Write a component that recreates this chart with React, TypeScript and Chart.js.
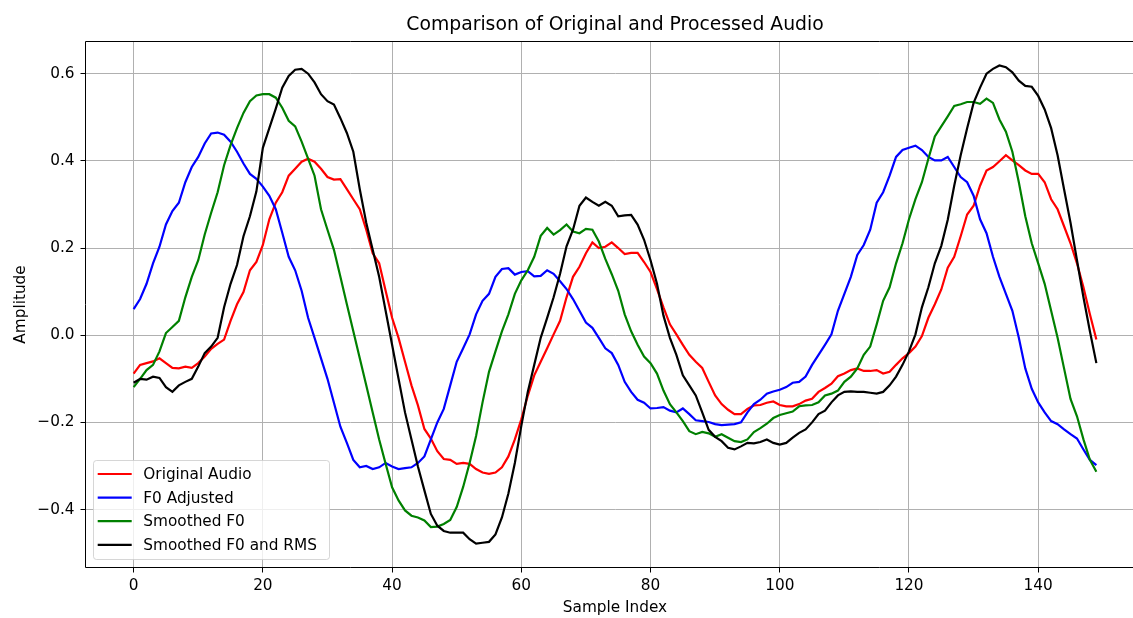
import React, { useEffect, useRef } from "react";
import { Chart, registerables } from "chart.js";

Chart.register(...registerables);

// Sample positions 0..149
const sampleIndex: number[] = [
  0, 1, 2, 3, 4, 5, 6, 7, 8, 9, 10, 11, 12, 13, 14, 15, 16, 17, 18, 19,
  20, 21, 22, 23, 24, 25, 26, 27, 28, 29, 30, 31, 32, 33, 34, 35, 36, 37, 38, 39,
  40, 41, 42, 43, 44, 45, 46, 47, 48, 49, 50, 51, 52, 53, 54, 55, 56, 57, 58, 59,
  60, 61, 62, 63, 64, 65, 66, 67, 68, 69, 70, 71, 72, 73, 74, 75, 76, 77, 78, 79,
  80, 81, 82, 83, 84, 85, 86, 87, 88, 89, 90, 91, 92, 93, 94, 95, 96, 97, 98, 99,
  100, 101, 102, 103, 104, 105, 106, 107, 108, 109, 110, 111, 112, 113, 114, 115, 116, 117, 118, 119,
  120, 121, 122, 123, 124, 125, 126, 127, 128, 129, 130, 131, 132, 133, 134, 135, 136, 137, 138, 139,
  140, 141, 142, 143, 144, 145, 146, 147, 148, 149,
];

const originalAudio: number[] = [
  -0.088, -0.068, -0.064, -0.06, -0.053, -0.064, -0.075, -0.076, -0.072, -0.075,
  -0.064, -0.049, -0.031, -0.02, -0.01, 0.033, 0.071, 0.099, 0.149, 0.168,
  0.207, 0.266, 0.304, 0.328, 0.366, 0.382, 0.398, 0.405, 0.398, 0.382,
  0.363, 0.357, 0.358, 0.335, 0.312, 0.289, 0.242, 0.188, 0.165, 0.102,
  0.04, -0.006, -0.061, -0.115, -0.161, -0.215, -0.237, -0.266, -0.284, -0.286,
  -0.295, -0.293, -0.295, -0.307, -0.315, -0.318, -0.315, -0.303, -0.278, -0.239,
  -0.193, -0.139, -0.092, -0.061, -0.03, 0.002, 0.033, 0.087, 0.134, 0.157,
  0.188, 0.213, 0.2, 0.203, 0.213, 0.2, 0.186, 0.189, 0.189, 0.168,
  0.145, 0.106, 0.064, 0.025, 0.002, -0.022, -0.045, -0.061, -0.075, -0.107,
  -0.138, -0.158, -0.171, -0.181, -0.181, -0.169, -0.161, -0.16, -0.155, -0.152,
  -0.16, -0.163, -0.163, -0.158, -0.15, -0.146, -0.13, -0.121, -0.111, -0.094,
  -0.088, -0.08, -0.076, -0.082, -0.082, -0.08, -0.088, -0.084, -0.068, -0.053,
  -0.041, -0.026, -0.002, 0.04, 0.071, 0.105, 0.155, 0.18, 0.227, 0.277,
  0.297, 0.343, 0.378, 0.386, 0.399, 0.413, 0.401, 0.39, 0.378, 0.37,
  0.37, 0.351, 0.312, 0.289, 0.25, 0.211, 0.165, 0.11, 0.048, -0.01,
];

const f0Adjusted: number[] = [
  0.06, 0.083, 0.118, 0.165, 0.203, 0.254, 0.285, 0.304, 0.351, 0.386,
  0.409, 0.44, 0.463, 0.465, 0.46, 0.444, 0.421, 0.394, 0.37, 0.359,
  0.341, 0.32, 0.289, 0.235, 0.18, 0.149, 0.102, 0.04, -0.006, -0.053,
  -0.1, -0.155, -0.21, -0.247, -0.286, -0.303, -0.3, -0.307, -0.303, -0.293,
  -0.301, -0.307, -0.305, -0.303, -0.293, -0.278, -0.239, -0.2, -0.169, -0.115,
  -0.061, -0.03, 0.002, 0.048, 0.079, 0.095, 0.134, 0.152, 0.154, 0.139,
  0.145, 0.147, 0.135, 0.136, 0.149, 0.141, 0.124, 0.106, 0.083, 0.056,
  0.029, 0.017, -0.006, -0.03, -0.041, -0.068, -0.107, -0.13, -0.148, -0.155,
  -0.168, -0.167, -0.165, -0.173, -0.177, -0.168, -0.181, -0.195, -0.197, -0.199,
  -0.204, -0.206, -0.205, -0.204, -0.2, -0.177, -0.158, -0.148, -0.134, -0.129,
  -0.125, -0.119, -0.109, -0.107, -0.095, -0.068, -0.045, -0.022, 0.002, 0.056,
  0.095, 0.134, 0.184, 0.207, 0.242, 0.304, 0.328, 0.366, 0.409, 0.425,
  0.43, 0.435, 0.425, 0.409, 0.401, 0.401, 0.409, 0.386, 0.363, 0.351,
  0.32, 0.266, 0.234, 0.18, 0.134, 0.095, 0.056, -0.006, -0.076, -0.123,
  -0.154, -0.177, -0.197, -0.204, -0.216, -0.227, -0.237, -0.262, -0.286, -0.298,
];

const smoothedF0: number[] = [
  -0.119, -0.1, -0.08, -0.068, -0.037, 0.005, 0.019, 0.033, 0.087, 0.134,
  0.172, 0.231, 0.281, 0.328, 0.39, 0.436, 0.475, 0.51, 0.537, 0.55,
  0.553, 0.553, 0.545, 0.522, 0.492, 0.479, 0.444, 0.405, 0.366, 0.289,
  0.242, 0.196, 0.134, 0.071, 0.009, -0.053, -0.115, -0.177, -0.239, -0.295,
  -0.349, -0.379, -0.402, -0.414, -0.418, -0.425, -0.44, -0.439, -0.433, -0.424,
  -0.394, -0.348, -0.293, -0.231, -0.154, -0.084, -0.037, 0.009, 0.048, 0.095,
  0.126, 0.149, 0.18, 0.228, 0.246, 0.231, 0.241, 0.254, 0.238, 0.234,
  0.244, 0.242, 0.215, 0.175, 0.14, 0.102, 0.048, 0.009, -0.022, -0.049,
  -0.064, -0.088, -0.127, -0.158, -0.177, -0.197, -0.22, -0.227, -0.222, -0.225,
  -0.233, -0.227, -0.235, -0.243, -0.245, -0.239, -0.222, -0.213, -0.203, -0.19,
  -0.183, -0.179, -0.175, -0.163, -0.161, -0.16, -0.154, -0.138, -0.134, -0.127,
  -0.107, -0.095, -0.076, -0.045, -0.026, 0.025, 0.079, 0.11, 0.165, 0.211,
  0.266, 0.312, 0.351, 0.405, 0.456, 0.479, 0.502, 0.526, 0.53, 0.535,
  0.535, 0.531, 0.543, 0.533, 0.495, 0.467, 0.421, 0.351, 0.273, 0.211,
  0.165, 0.118, 0.056, -0.006, -0.076, -0.146, -0.186, -0.239, -0.286, -0.313,
];

const smoothedF0Rms: number[] = [
  -0.109, -0.1, -0.102, -0.095, -0.098, -0.119, -0.13, -0.115, -0.107, -0.1,
  -0.072, -0.041, -0.026, -0.006, 0.064, 0.118, 0.161, 0.227, 0.273, 0.33,
  0.43, 0.475, 0.52, 0.568, 0.595, 0.609, 0.611, 0.6, 0.58, 0.553,
  0.537, 0.529, 0.498, 0.464, 0.421, 0.335, 0.258, 0.196, 0.134, 0.056,
  -0.022, -0.1, -0.177, -0.239, -0.301, -0.356, -0.41, -0.437, -0.449, -0.453,
  -0.453, -0.453, -0.468, -0.478, -0.476, -0.474, -0.457, -0.418, -0.363, -0.293,
  -0.208, -0.13, -0.068, -0.006, 0.04, 0.087, 0.141, 0.204, 0.242, 0.297,
  0.316, 0.306, 0.297, 0.306, 0.297, 0.273, 0.275, 0.276, 0.254, 0.219,
  0.172, 0.118, 0.045, -0.006, -0.045, -0.092, -0.115, -0.138, -0.177, -0.217,
  -0.233, -0.243, -0.258, -0.262, -0.255, -0.247, -0.248, -0.245, -0.239, -0.247,
  -0.251, -0.247, -0.235, -0.224, -0.216, -0.2, -0.181, -0.173, -0.154, -0.138,
  -0.13, -0.129, -0.13, -0.13, -0.132, -0.134, -0.13, -0.115, -0.095, -0.068,
  -0.037, 0.002, 0.064, 0.11, 0.165, 0.205, 0.265, 0.343, 0.413, 0.475,
  0.533, 0.568, 0.6, 0.611, 0.619, 0.615, 0.603, 0.584, 0.572, 0.57,
  0.549, 0.518, 0.475, 0.413, 0.335, 0.258, 0.172, 0.087, 0.009, -0.064,
];

const seriesNames: string[] = ["Original Audio", "F0 Adjusted", "Smoothed F0", "Smoothed F0 and RMS"];
const seriesColors: string[] = ["#ff0000", "#0000ff", "#008000", "#000000"];

const xTicks: number[] = [0, 20, 40, 60, 80, 100, 120, 140];
const xTickLabels: string[] = ["0", "20", "40", "60", "80", "100", "120", "140"];
const yTicks: number[] = [-0.4, -0.2, 0.0, 0.2, 0.4, 0.6];
const yTickLabels: string[] = ["\u22120.4", "\u22120.2", "0.0", "0.2", "0.4", "0.6"];

const titleText = "Comparison of Original and Processed Audio";
const xAxisTitle = "Sample Index";
const yAxisTitle = "Amplitude";

const FONT = "'DejaVu Sans', 'Liberation Sans', sans-serif";
const VIEW_W = 1133;
const CANVAS_W = 1200;
const CANVAS_H = 618;
const AREA_RIGHT = 1144.5;

// Data extent with 5% margins on each side
const allValues = [...originalAudio, ...f0Adjusted, ...smoothedF0, ...smoothedF0Rms];
const yLo = Math.min(...allValues);
const yHi = Math.max(...allValues);
const yPad = (yHi - yLo) * 0.05;
const xLo = sampleIndex[0];
const xHi = sampleIndex[sampleIndex.length - 1];
const xPad = (xHi - xLo) * 0.05;

const frameAndDecor = {
  id: "frameAndDecor",
  afterDatasetsDraw(chart: any) {
    const { ctx, chartArea } = chart;
    const { left, right, top, bottom } = chartArea;
    ctx.save();
    ctx.strokeStyle = "#000";
    ctx.lineWidth = 1;
    // top, left and bottom spines (the right one lies beyond the visible page)
    ctx.beginPath();
    ctx.moveTo(right, top);
    ctx.lineTo(left, top);
    ctx.lineTo(left, bottom);
    ctx.lineTo(right, bottom);
    ctx.stroke();
    ctx.restore();
  },
  afterDraw(chart: any) {
    const { ctx, chartArea } = chart;
    ctx.save();
    // title, centred over the plot area
    ctx.fillStyle = "#000";
    ctx.font = `18.8px ${FONT}`;
    ctx.textAlign = "center";
    ctx.textBaseline = "middle";
    ctx.fillText(titleText, (chartArea.left + chartArea.right) / 2, 25);

    // legend box in the lower left corner of the plot
    const bx = 93.5;
    const by = 460.5;
    const bw = 236;
    const bh = 99;
    const r = 3;
    ctx.beginPath();
    ctx.moveTo(bx + r, by);
    ctx.lineTo(bx + bw - r, by);
    ctx.arcTo(bx + bw, by, bx + bw, by + r, r);
    ctx.lineTo(bx + bw, by + bh - r);
    ctx.arcTo(bx + bw, by + bh, bx + bw - r, by + bh, r);
    ctx.lineTo(bx + r, by + bh);
    ctx.arcTo(bx, by + bh, bx, by + bh - r, r);
    ctx.lineTo(bx, by + r);
    ctx.arcTo(bx, by, bx + r, by, r);
    ctx.closePath();
    ctx.fillStyle = "rgba(255,255,255,0.8)";
    ctx.fill();
    ctx.strokeStyle = "rgba(204,204,204,0.8)";
    ctx.lineWidth = 1;
    ctx.stroke();

    ctx.font = `15.3px ${FONT}`;
    ctx.textAlign = "left";
    ctx.textBaseline = "middle";
    seriesNames.forEach((name, i) => {
      const y = 474 + i * 23.6;
      ctx.strokeStyle = seriesColors[i];
      ctx.lineWidth = 2.2;
      ctx.beginPath();
      ctx.moveTo(97.7, y);
      ctx.lineTo(131.7, y);
      ctx.stroke();
      ctx.fillStyle = "#000";
      ctx.fillText(name, 143.3, y + 1);
    });
    ctx.restore();
  },
};

export default function App() {
  const canvasRef = useRef<HTMLCanvasElement | null>(null);

  useEffect(() => {
    if (!canvasRef.current) return;
    const seriesValues = [originalAudio, f0Adjusted, smoothedF0, smoothedF0Rms];
    const datasets = seriesValues.map((vals, i) => ({
      label: seriesNames[i],
      data: vals.map((v, k) => ({ x: sampleIndex[k], y: v })),
      borderColor: seriesColors[i],
      backgroundColor: seriesColors[i],
      borderWidth: 2.2,
      pointRadius: 0,
      tension: 0,
      fill: false,
      order: seriesValues.length - i,
    }));

    const tickFont = { family: FONT, size: 15.3 };

    const chart = new Chart(canvasRef.current, {
      type: "line",
      data: { datasets },
      options: {
        animation: false,
        responsive: false,
        maintainAspectRatio: false,
        devicePixelRatio: 1,
        layout: { padding: { top: 41.5, right: CANVAS_W - AREA_RIGHT, bottom: 0, left: 0 } },
        plugins: {
          legend: { display: false },
          tooltip: { enabled: false },
          title: { display: false },
        },
        scales: {
          x: {
            type: "linear",
            min: xLo - xPad,
            max: xHi + xPad,
            afterFit: (s: any) => {
              s.height = 50.5;
            },
            afterBuildTicks: (s: any) => {
              s.ticks = xTicks.map((value) => ({ value }));
            },
            ticks: {
              autoSkip: false,
              maxRotation: 0,
              padding: 4.5,
              color: "#000",
              font: tickFont,
              callback: (_v: any, i: number) => xTickLabels[i],
            },
            grid: {
              color: "#b0b0b0",
              lineWidth: 1,
              tickLength: 5,
              tickColor: "#000",
              tickWidth: 1,
            },
            border: { display: false },
            title: {
              display: true,
              text: xAxisTitle,
              color: "#000",
              font: tickFont,
              padding: { top: 0, bottom: 0.8 },
            },
          },
          y: {
            type: "linear",
            min: yLo - yPad,
            max: yHi + yPad,
            afterFit: (s: any) => {
              s.width = 85.5;
            },
            afterBuildTicks: (s: any) => {
              s.ticks = yTicks.map((value) => ({ value }));
            },
            ticks: {
              autoSkip: false,
              padding: 6,
              color: "#000",
              font: tickFont,
              callback: (_v: any, i: number) => yTickLabels[i],
            },
            grid: {
              color: "#b0b0b0",
              lineWidth: 1,
              tickLength: 5,
              tickColor: "#000",
              tickWidth: 1,
            },
            border: { display: false },
            title: {
              display: true,
              text: yAxisTitle,
              color: "#000",
              font: tickFont,
              padding: { top: 12, bottom: 0 },
            },
          },
        },
      },
      plugins: [frameAndDecor],
    } as any);

    return () => {
      chart.destroy();
    };
  }, []);

  return (
    <div
      style={{
        position: "fixed",
        left: 0,
        top: 0,
        width: VIEW_W,
        height: CANVAS_H,
        overflow: "hidden",
        background: "#fff",
      }}
    >
      <canvas
        ref={canvasRef}
        width={CANVAS_W}
        height={CANVAS_H}
        style={{ display: "block", width: CANVAS_W, height: CANVAS_H }}
      />
    </div>
  );
}
